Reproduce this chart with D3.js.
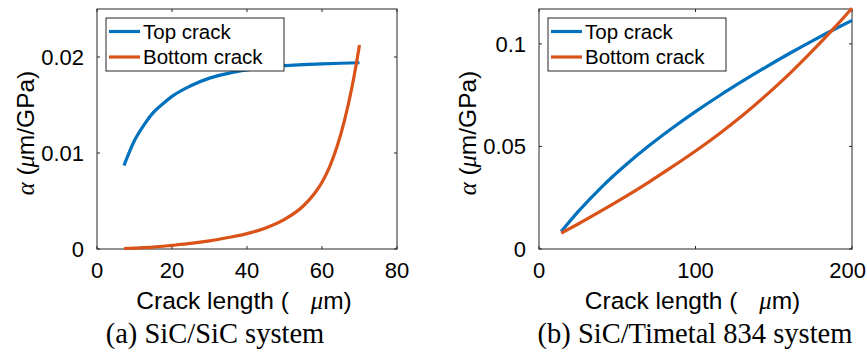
<!DOCTYPE html>
<html><head><meta charset="utf-8">
<script src="https://cdn.jsdelivr.net/npm/d3@7"></script>
<style>body{margin:0;background:#fff} svg{display:block}</style>
</head><body><svg id="c" width="867" height="357"></svg>
<script>
// ---------- data ----------
const seriesNames = ["Top crack", "Bottom crack"];
const seriesColors = ["#0072BD", "#D95319"];

// Panel (a) SiC/SiC
const aTopX = [7.2, 10, 12.5, 15, 17.5, 20, 25, 30, 35, 40, 45, 50, 55, 60, 65, 70];
const aTopY = [0.0087, 0.0113, 0.0129, 0.0142, 0.0151, 0.0159, 0.0170, 0.0178, 0.0183, 0.01865, 0.0189, 0.0191, 0.0192, 0.01928, 0.01935, 0.0194];
const aBotX = [7.2, 10, 15, 20, 25, 30, 35, 40, 45, 50, 55, 58, 60, 62, 64, 66, 68, 69, 70];
const aBotY = [0.00005, 0.0001, 0.0002, 0.00038, 0.00058, 0.00085, 0.0012, 0.0016, 0.00219, 0.00308, 0.00448, 0.00578, 0.00696, 0.00854, 0.01064, 0.01339, 0.01688, 0.01895, 0.02125];
const aXTicks = [0, 20, 40, 60, 80];
const aYTicks = [0, 0.01, 0.02];
const aYTickLabels = ["0", "0.01", "0.02"];
const aXDomain = [0, 80];
const aYDomain = [0, 0.025];
const aCaption = "(a) SiC/SiC system";

// Panel (b) SiC/Timetal 834
const bX = [14.2, 25, 40, 55, 70, 85, 100, 115, 130, 145, 160, 175, 190, 200];
const bTopY = [0.0085, 0.0182, 0.0302, 0.0407, 0.0502, 0.0589, 0.0670, 0.0746, 0.0818, 0.0887, 0.0953, 0.1016, 0.1076, 0.1114];
const bBotY = [0.0077, 0.0122, 0.0187, 0.0254, 0.0325, 0.0400, 0.0478, 0.0561, 0.0651, 0.0749, 0.0854, 0.0968, 0.1089, 0.1174];
const bXTicks = [0, 100, 200];
const bYTicks = [0, 0.05, 0.1];
const bYTickLabels = ["0", "0.05", "0.1"];
const bXDomain = [0, 200];
const bYDomain = [0, 0.117];
const bCaption = "(b) SiC/Timetal 834 system";

// ---------- drawing ----------
const W = 867;
const svg = d3.select("#c");
const SANS = "'Liberation Sans', Arial, Helvetica, sans-serif";
const SERIF = "'Liberation Serif', 'Times New Roman', serif";
const AX = "#262626";

function panel(o) {
  const g = svg.append("g");
  const x = d3.scaleLinear().domain(o.xDomain).range([o.left, o.right]);
  const y = d3.scaleLinear().domain(o.yDomain).range([o.bottom, o.top]);
  const T = 3;

  g.append("rect").attr("x", o.left).attr("y", o.top)
    .attr("width", o.right - o.left).attr("height", o.bottom - o.top)
    .attr("fill", "none").attr("stroke", AX).attr("stroke-width", 1);

  o.xTicks.forEach(t => {
    const px = x(t);
    g.append("line").attr("x1", px).attr("x2", px).attr("y1", o.bottom).attr("y2", o.bottom - T).attr("stroke", AX);
    g.append("line").attr("x1", px).attr("x2", px).attr("y1", o.top).attr("y2", o.top + T).attr("stroke", AX);
    const tx = g.append("text").attr("x", px).attr("y", o.bottom + 29).attr("text-anchor", "middle")
      .attr("font-family", SANS).attr("font-size", 22).attr("fill", "#000").text(String(t));
    const w = tx.node().getComputedTextLength();
    if (px + w / 2 > W - 1) tx.attr("x", W - 1 - w / 2);
  });
  o.yTicks.forEach((t, i) => {
    const py = y(t);
    g.append("line").attr("x1", o.left).attr("x2", o.left + T).attr("y1", py).attr("y2", py).attr("stroke", AX);
    g.append("line").attr("x1", o.right).attr("x2", o.right - T).attr("y1", py).attr("y2", py).attr("stroke", AX);
    g.append("text").attr("x", o.left - 13).attr("y", py).attr("dy", "0.36em").attr("text-anchor", "end")
      .attr("font-family", SANS).attr("font-size", 22).attr("fill", "#000").text(o.yTickLabels[i]);
  });

  const line = d3.line().x(d => x(d[0])).y(d => y(d[1])).curve(d3.curveMonotoneX);
  o.series.forEach((s, i) => {
    g.append("path").datum(d3.zip(s.x, s.y)).attr("d", line)
      .attr("fill", "none").attr("stroke", seriesColors[i]).attr("stroke-width", 3.2)
      .attr("stroke-linejoin", "round");
  });

  const lg = g.append("g");
  lg.append("rect").attr("x", o.left + 9).attr("y", 18).attr("width", 178).attr("height", 53)
    .attr("fill", "#fff").attr("stroke", AX).attr("stroke-width", 1);
  seriesNames.forEach((n, i) => {
    const cy = 31.5 + i * 25.5;
    lg.append("line").attr("x1", o.left + 12).attr("x2", o.left + 43).attr("y1", cy).attr("y2", cy)
      .attr("stroke", seriesColors[i]).attr("stroke-width", 3.2);
    lg.append("text").attr("x", o.left + 46).attr("y", cy).attr("dy", "0.36em")
      .attr("font-family", SANS).attr("font-size", 20.5).attr("fill", "#000").text(n);
  });

  const cx = (o.left + o.right) / 2;
  const xl = g.append("text").attr("x", cx - 3).attr("y", 309).attr("text-anchor", "middle")
    .attr("font-family", SANS).attr("font-size", 24.5).attr("fill", "#000");
  xl.append("tspan").text("Crack length (");
  xl.append("tspan").attr("dx", 22).attr("font-family", SERIF).attr("font-style", "italic").text("μ");
  xl.append("tspan").text("m)");

  const ly = (o.top + o.bottom) / 2 + 4;
  const yl = g.append("text").attr("transform", `translate(${o.left - 63},${ly}) rotate(-90)`)
    .attr("text-anchor", "middle").attr("font-family", SANS).attr("font-size", 24.5).attr("fill", "#000");
  yl.append("tspan").attr("font-family", SERIF).attr("font-style", "italic").text("α");
  yl.append("tspan").text(" (");
  yl.append("tspan").attr("font-family", SERIF).attr("font-style", "italic").text("μ");
  yl.append("tspan").text("m/GPa)");

  g.append("text").attr("x", o.capX).attr("y", 343).attr("text-anchor", "middle")
    .attr("font-family", SERIF).attr("font-size", 28.5).attr("fill", "#000").text(o.caption);
}

panel({
  left: 97, right: 397, top: 9, bottom: 249,
  xDomain: aXDomain, yDomain: aYDomain, xTicks: aXTicks, yTicks: aYTicks, yTickLabels: aYTickLabels,
  series: [{x: aTopX, y: aTopY}, {x: aBotX, y: aBotY}],
  caption: aCaption, capX: 215
});
panel({
  left: 539, right: 852, top: 9, bottom: 249,
  xDomain: bXDomain, yDomain: bYDomain, xTicks: bXTicks, yTicks: bYTicks, yTickLabels: bYTickLabels,
  series: [{x: bX, y: bTopY}, {x: bX, y: bBotY}],
  caption: bCaption, capX: 695
});
</script></body></html>
